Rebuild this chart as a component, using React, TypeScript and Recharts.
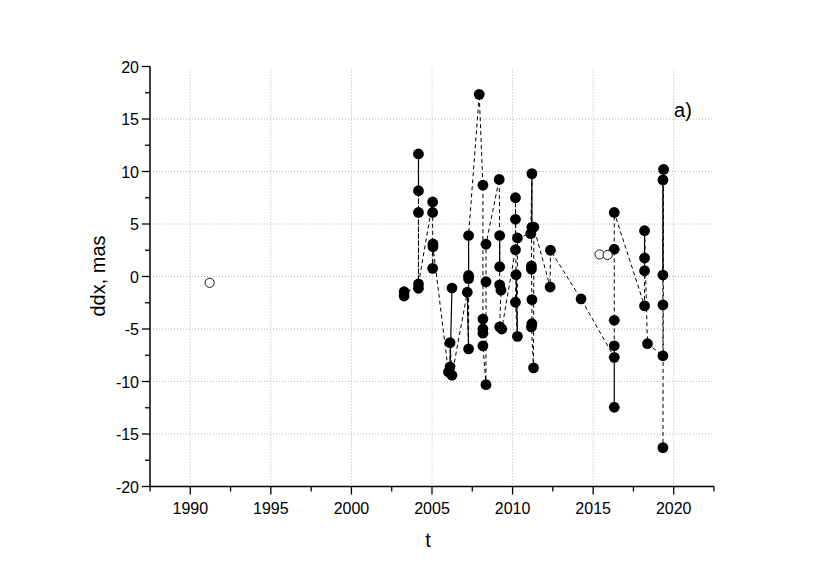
import { ComposedChart, Line, Scatter, XAxis, YAxis, ReferenceLine } from "recharts";

// dashed path through the measurements, in drawing order [t, ddx]
const dashedPath: [number, number][] = [
  [2003.27, -1.86], [2003.27, -1.45], [2004.16, -1.12], [2004.16, 6.1], [2004.16, 8.17],
  [2004.16, -0.71], [2005.04, 7.1], [2005.04, 6.1], [2005.04, 0.78], [2005.06, 3.1],
  [2005.06, 2.84], [2006.02, -9.1], [2006.12, -8.6], [2006.12, -6.3], [2006.24, -9.4],
  [2007.19, -1.5], [2007.27, -6.9], [2007.27, -0.2], [2007.27, 0.1], [2007.27, 3.9],
  [2007.93, 17.35], [2008.16, 8.7], [2008.16, -4.05], [2008.16, -5.0], [2008.16, -5.4],
  [2008.16, -6.6], [2008.35, -10.3], [2008.35, -0.5], [2008.35, 3.07], [2009.17, 9.25],
  [2009.2, 3.9], [2009.2, 0.93], [2009.2, -0.8], [2009.28, -1.3], [2009.2, -4.8],
  [2009.33, -5.0], [2010.18, 2.55], [2010.18, 5.45], [2010.18, 7.5], [2010.22, 0.17],
  [2010.18, -2.45], [2010.3, -5.7], [2010.3, 3.67], [2011.13, 4.08], [2011.2, 9.8],
  [2011.17, 1.0], [2011.17, 0.7], [2011.2, -2.2], [2011.2, -4.5], [2011.17, -4.8],
  [2011.3, -8.7], [2011.32, 4.7], [2012.33, -1.0], [2012.35, 2.5], [2014.25, -2.14],
  [2016.31, -7.7], [2016.31, -6.6], [2016.31, -4.17], [2016.31, 2.6], [2016.31, 6.1],
  [2018.19, -2.8], [2018.19, 0.55], [2018.19, 1.76], [2018.19, 4.36], [2018.37, -6.4],
  [2019.33, -7.55], [2019.33, -2.7], [2019.33, 0.14], [2019.33, 9.2], [2019.37, 10.2],
  [2019.33, -16.3],
];

// solid links between points of one epoch
const solidSegments: [number, number][][] = [
  [[2004.16, 11.67], [2004.16, 8.17]],
  [[2006.24, -1.1], [2006.12, -8.6]],
  [[2007.27, 3.9], [2007.27, 0.1]],
  [[2007.19, -1.5], [2007.27, -6.9]],
  [[2009.2, 3.9], [2009.2, 0.93]],
  [[2010.22, 0.17], [2010.3, -5.7]],
  [[2011.2, 9.8], [2011.2, 4.7]],
  [[2016.31, -7.7], [2016.31, -12.45]],
  [[2018.19, 4.36], [2018.19, 1.76]],
  [[2019.33, 9.2], [2019.33, 0.14]],
];

const openPoints: [number, number][] = [[1991.2, -0.6], [2015.4, 2.1], [2015.9, 2.05]];

const xMajor = [1990, 1995, 2000, 2005, 2010, 2015, 2020];
const xTicks = [1987.5, 1990, 1992.5, 1995, 1997.5, 2000, 2002.5, 2005, 2007.5, 2010, 2012.5, 2015, 2017.5, 2020, 2022.5];
const yMajor = [-15, -10, -5, 0, 5, 10, 15];
const yTicks = [-20, -17.5, -15, -12.5, -10, -7.5, -5, -2.5, 0, 2.5, 5, 7.5, 10, 12.5, 15, 17.5, 20];

const toRow = ([t, v]: [number, number]) => ({ t, v });
const dashedData = dashedPath.map(toRow);
const solidData: { t: number; v: number | null }[] = [];
solidSegments.forEach((seg) => {
  seg.forEach((p) => solidData.push(toRow(p)));
  solidData.push({ t: seg[seg.length - 1][0], v: null });
});
const seen = new Set<string>();
const filledData = [...dashedPath, ...solidSegments.flat()]
  .filter(([t, v]) => {
    const k = `${t}|${v}`;
    if (seen.has(k)) return false;
    seen.add(k);
    return true;
  })
  .map(toRow);
const openData = openPoints.map(toRow);

const FONT = "'Liberation Sans', Arial, sans-serif";

function XTick({ x, y, payload }: any) {
  const major = payload.value % 5 === 0;
  return (
    <g>
      <line x1={x} x2={x} y1={y} y2={y + (major ? 8 : 5)} stroke="#000" strokeWidth={1.3} />
      {major && (
        <text x={x} y={y + 27} textAnchor="middle" fontSize={16} fontFamily={FONT} fill="#000">
          {payload.value}
        </text>
      )}
    </g>
  );
}

function YTick({ x, y, payload }: any) {
  const major = payload.value % 5 === 0;
  return (
    <g>
      <line x1={x} x2={x - (major ? 8 : 5)} y1={y} y2={y} stroke="#000" strokeWidth={1.3} />
      {major && (
        <text x={x - 11} y={y + 6} textAnchor="end" fontSize={16} fontFamily={FONT} fill="#000">
          {payload.value}
        </text>
      )}
    </g>
  );
}

const filledDot = (p: any) => <circle cx={p.cx} cy={p.cy} r={5.4} fill="#000" />;
const openDot = (p: any) => <circle cx={p.cx} cy={p.cy} r={4.6} fill="#fff" stroke="#000" strokeWidth={0.9} />;

export default function App() {
  return (
    <div style={{ position: "relative", width: 830, height: 583, background: "#fff", fontFamily: FONT }}>
      <style>{`body{margin:0}`}</style>
      <ComposedChart width={830} height={583} margin={{ top: 66.5, right: 116, bottom: 36.5, left: 90 }}>
        <XAxis
          type="number"
          dataKey="t"
          domain={[1987.5, 2022.5]}
          ticks={xTicks}
          interval={0}
          allowDataOverflow
          height={60}
          tickSize={0}
          tickMargin={0}
          tickLine={false}
          tick={<XTick />}
          axisLine={{ stroke: "#000", strokeWidth: 1.5 }}
        />
        <YAxis
          type="number"
          dataKey="v"
          domain={[-20, 20]}
          ticks={yTicks}
          interval={0}
          allowDataOverflow
          width={60}
          tickSize={0}
          tickMargin={0}
          tickLine={false}
          tick={<YTick />}
          axisLine={{ stroke: "#000", strokeWidth: 1.5 }}
        />
        {xMajor.map((v) => (
          <ReferenceLine key={`gx${v}`} x={v} stroke="#b4b4b4" strokeDasharray="1 2" />
        ))}
        {yMajor.map((v) => (
          <ReferenceLine key={`gy${v}`} y={v} stroke="#b4b4b4" strokeDasharray="1 2" />
        ))}
        <Line
          data={dashedData}
          dataKey="v"
          type="linear"
          stroke="#000"
          strokeWidth={1}
          strokeDasharray="4 3"
          dot={false}
          activeDot={false}
          isAnimationActive={false}
        />
        <Line
          data={solidData}
          dataKey="v"
          type="linear"
          stroke="#000"
          strokeWidth={1.2}
          dot={false}
          activeDot={false}
          isAnimationActive={false}
        />
        <Scatter data={filledData} dataKey="v" shape={filledDot} isAnimationActive={false} />
        <Scatter data={openData} dataKey="v" shape={openDot} isAnimationActive={false} />
      </ComposedChart>
      <div
        style={{
          position: "absolute",
          left: 98,
          top: 276,
          transform: "translate(-50%, -50%) rotate(-90deg)",
          fontSize: 20,
          whiteSpace: "nowrap",
        }}
      >
        ddx, mas
      </div>
      <div style={{ position: "absolute", left: 428, top: 540, transform: "translate(-50%, -50%)", fontSize: 20 }}>
        t
      </div>
      <div style={{ position: "absolute", left: 683, top: 110, transform: "translate(-50%, -50%)", fontSize: 20 }}>
        a)
      </div>
    </div>
  );
}
